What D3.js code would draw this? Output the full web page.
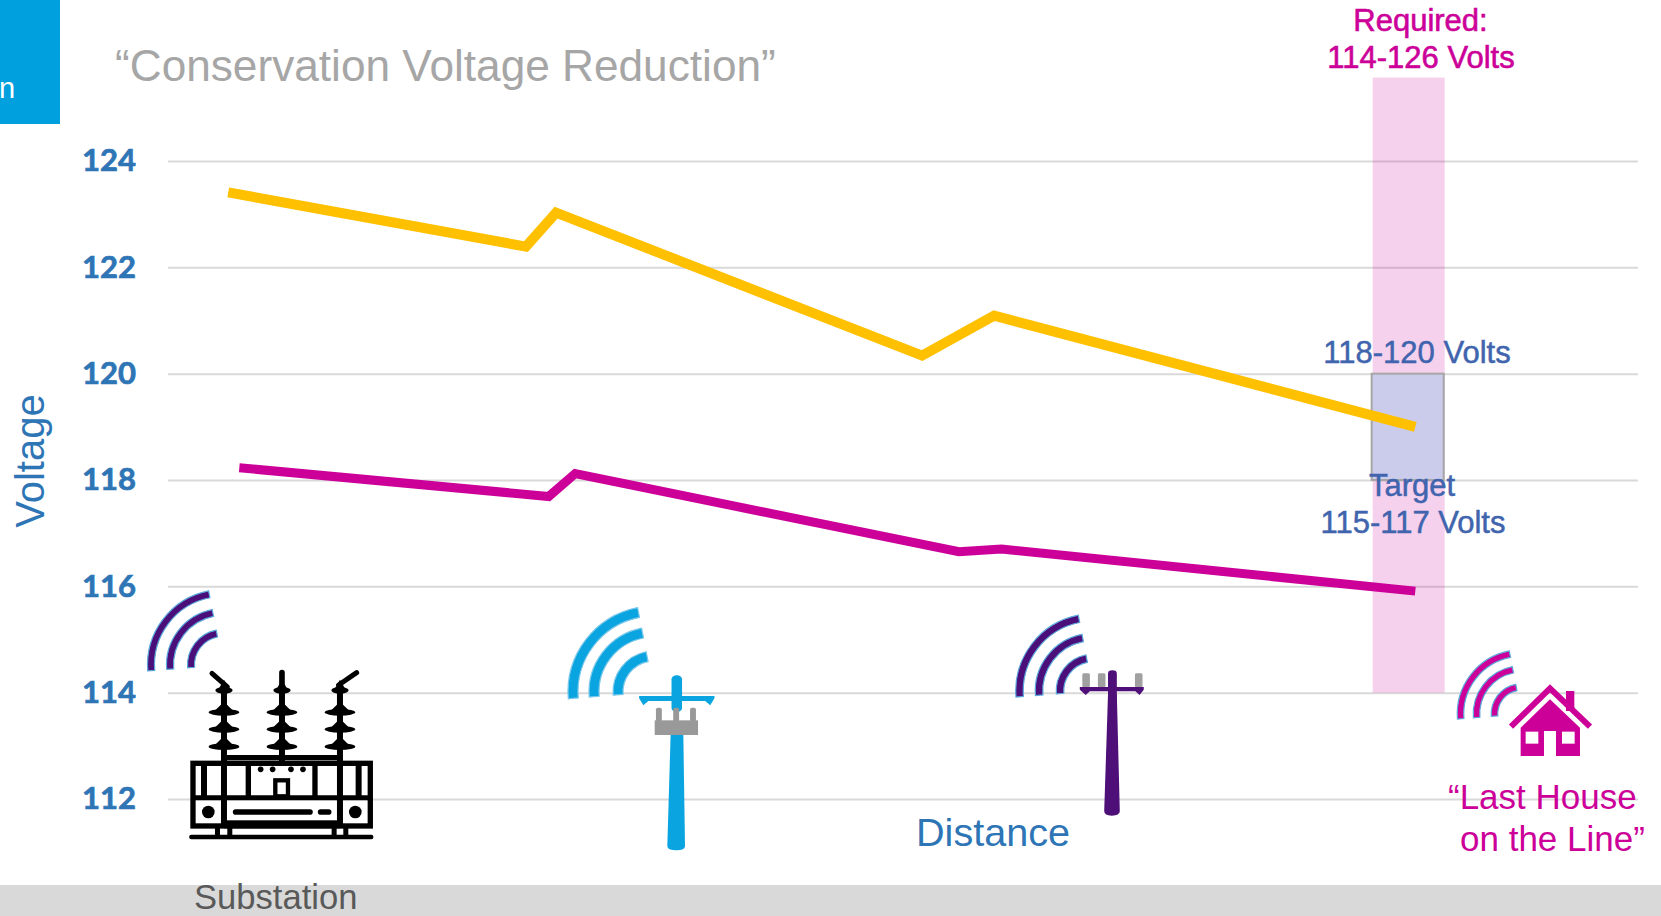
<!DOCTYPE html>
<html><head><meta charset="utf-8">
<script src="https://cdn.jsdelivr.net/npm/d3@7"></script>
<style>html,body{margin:0;padding:0;background:#fff;overflow:hidden}svg{display:block}text{font-family:"Liberation Sans",Arial,sans-serif}</style>
</head><body><svg id="c" width="1661" height="916"></svg>
<script>
// Data
const yTicks = [112,114,116,118,120,122,124];
const distanceHigh = [4.1,24.35,26.4,51.3,56.2,84.85];
const voltageHigh = [123.41,122.39,123.03,120.34,121.09,119.0];
const distanceLow = [4.85,25.9,27.7,53.8,56.7,84.85];
const voltageLow = [118.23,117.69,118.12,116.65,116.7,115.91];
const requiredBand = [114,125.57];
const targetBand = [118,120];
const bandDistance = [81.95,86.85];

const svg = d3.select("#c");
const x = d3.scaleLinear().domain([0,100]).range([168,1638]);
const y = d3.scaleLinear().domain([112,124]).range([799,161]);

// Frame elements
svg.append("rect").attr("x",0).attr("y",0).attr("width",60).attr("height",124).attr("fill","#00a0df");
svg.append("rect").attr("x",0).attr("y",885).attr("width",1661).attr("height",31).attr("fill","#d9d9d9");
svg.append("text").attr("x",-1).attr("y",98).attr("font-size",29).attr("fill","#fff").text("n");
svg.append("text").attr("x",115).attr("y",81).attr("font-size",44.2).attr("fill","#a6a6a6").text("“Conservation Voltage Reduction”");

// Axis and grid
const axis = d3.axisLeft(y).tickValues(yTicks).tickSize(-1470).tickPadding(32).tickFormat(d3.format("d"));
const ag = svg.append("g").attr("transform","translate(168,0)").call(axis);
ag.select(".domain").remove();
ag.selectAll(".tick line").attr("stroke","#d9d9d9").attr("stroke-width",2);
ag.selectAll(".tick text").attr("fill","#2e75b6").attr("stroke","#2e75b6").attr("stroke-width",.7).attr("font-size",31).attr("font-weight",700).style("font-family","Lato,sans-serif").attr("dy","0.32em");

// Bands
svg.append("rect").attr("x",x(bandDistance[0])).attr("width",x(bandDistance[1])-x(bandDistance[0]))
  .attr("y",y(requiredBand[1])).attr("height",y(requiredBand[0])-y(requiredBand[1]))
  .attr("fill","#cc0099").attr("fill-opacity",.18);
svg.append("rect").attr("x",x(bandDistance[0])-1).attr("width",x(bandDistance[1])-x(bandDistance[0]))
  .attr("y",y(targetBand[1])).attr("height",y(targetBand[0])-y(targetBand[1]))
  .attr("fill","#cbcbeb").attr("stroke","#a6a6a6").attr("stroke-width",2);

// Lines
const line = d3.line().x(d=>x(d[0])).y(d=>y(d[1]));
svg.append("path").attr("d",line(d3.zip(distanceHigh,voltageHigh))).attr("fill","none").attr("stroke","#ffc000").attr("stroke-width",10).attr("stroke-linejoin","miter");
svg.append("path").attr("d",line(d3.zip(distanceLow,voltageLow))).attr("fill","none").attr("stroke","#cc0099").attr("stroke-width",9).attr("stroke-linejoin","miter");

// Labels
function label(t,px,py,size,fill,anchor,extra){
  const e=svg.append("text").attr("x",px).attr("y",py).attr("font-size",size).attr("fill",fill).attr("text-anchor",anchor||"middle").text(t);
  if(extra){e.attr("stroke",fill).attr("stroke-width",extra);}
  return e;
}
const MAG="#cc0099",BLU="#4064ad",AX="#2e75b6";
label("Required:",1420.5,31,31,MAG,"middle",.6);
label("114-126 Volts",1421,68,31,MAG,"middle",.6);
label("118-120 Volts",1417,363,31,BLU,"middle",.5);
label("Target",1412,496,31,BLU,"middle",.5);
label("115-117 Volts",1413,533,31,BLU,"middle",.5);
label("Distance",916,846,39.6,AX,"start");
label("Substation",194,908.6,34.6,"#595959","start");
label("“Last House",1448,809,35,MAG,"start");
label("on the Line”",1460,851,35,MAG,"start");
svg.append("text").attr("transform","translate(44,461) rotate(-90)").attr("text-anchor","middle").attr("font-size",40).attr("fill",AX).text("Voltage");

// Signal arcs
function wifi(cx,cy,radii,w,fill,edge){
  const g=svg.append("g").attr("transform",`translate(${cx},${cy})`);
  const a=d3.arc().startAngle(-94.5*Math.PI/180).endAngle(-11*Math.PI/180);
  radii.forEach(r=>g.append("path").attr("d",a({innerRadius:r-w/2,outerRadius:r+w/2}))
    .attr("fill",fill).attr("stroke",edge).attr("stroke-width",1.2));
}
wifi(223,665,[72,53,32],7,"#4b0f7a","#5ba8dc");
wifi(654,692,[81,60,36],10,"#0aa5e0","#7cc8ea");
wifi(1093,691,[73.5,54,33],7.5,"#4b0f7a","#5ba8dc");
wifi(1521.5,714,[61,45,27],6.5,"#cc0099","#5ba8dc");

// Substation icon
const s=svg.append("g").attr("transform","translate(0,541) scale(0.3333)").attr("fill","#000").attr("stroke","none");
s.append("rect").attr("x",579).attr("y",667).attr("width",532).attr("height",188).attr("fill","none").attr("stroke","#000").attr("stroke-width",16);
const L=(x1,y1,x2,y2,w,c)=>s.append("line").attr("x1",x1).attr("y1",y1).attr("x2",x2).attr("y2",y2).attr("stroke","#000").attr("stroke-width",w).attr("stroke-linecap",c||"butt");
L(574,888,1114,888,13,"round");
[[645,660],[682,697],[995,1010],[1030,1045]].forEach(f=>s.append("rect").attr("x",f[0]).attr("y",860).attr("width",f[1]-f[0]).attr("height",24));
[672,846,1020].forEach(cx=>{
  L(cx,440,cx,cx===846?660:860,18);
  [[448,26],[514,46],[565,46],[617,46]].forEach(d=>{
    s.append("ellipse").attr("cx",cx).attr("cy",d[0]).attr("rx",d[1]).attr("ry",10);
    s.append("path").attr("d",`M${cx-d[1]*.7},${d[0]}L${cx},${d[0]-32}L${cx+d[1]*.7},${d[0]}Z`);
  });
});
L(636,397,682,438,15,"round");L(846,395,846,445,17,"round");L(1070,395,1016,432,15,"round");
L(672,650,1020,650,16);
L(745,660,745,770,16);L(945,660,945,770,16);L(580,770,1110,770,15);
L(612,672,612,765,18);L(1076,672,1076,765,18);
s.append("rect").attr("x",826).attr("y",718).attr("width",38).attr("height",48).attr("fill","none").attr("stroke","#000").attr("stroke-width",13);
[782,818,873,909].forEach(dx=>s.append("circle").attr("cx",dx).attr("cy",685).attr("r",8.5));
s.append("circle").attr("cx",625).attr("cy",813).attr("r",19);
s.append("circle").attr("cx",1066).attr("cy",813).attr("r",19);
L(707,813,930,813,17,"round");L(962,813,986,813,17,"round");
s.append("rect").attr("x",672).attr("y",838).attr("width",348).attr("height",24);

// Poles
function pole(color,parts){
  const g=svg.append("g").attr("transform","translate(520,581) scale(0.4209,0.3333)");
  parts(g,color);
}
pole("#0aa5e0",(g,c)=>{
  g.append("path").attr("d","M358,455L388,455L392,795Q392,808 372,808Q350,808 350,795Z").attr("fill",c);
  g.append("rect").attr("x",360).attr("y",283).attr("width",25).attr("height",110).attr("rx",12).attr("fill",c);
  g.append("path").attr("d","M283,345L462,345L462,352L452,373L440,360L305,360L293,373L283,352Z").attr("fill",c);
  [330,371,411].forEach(v=>g.append("rect").attr("x",v-7).attr("y",380).attr("width",14).attr("height",42).attr("rx",5).attr("fill","#999"));
  g.append("rect").attr("x",320).attr("y",418).attr("width",103).attr("height",44).attr("fill","#999");
});
pole("#4f0f78",(g,c)=>{
  [1345,1382,1470].forEach(v=>g.append("rect").attr("x",v-9).attr("y",277).attr("width",18).attr("height",42).attr("rx",4).attr("fill","#a0a0a0"));
  g.append("path").attr("d","M1397,340L1418,340L1425,690Q1425,704 1406,704Q1388,704 1388,690Z").attr("fill",c);
  g.append("rect").attr("x",1397).attr("y",268).attr("width",21).attr("height",130).attr("rx",10).attr("fill",c);
  g.append("path").attr("d","M1330,318L1482,318L1482,326L1472,342L1462,331L1354,331L1344,342L1330,326Z").attr("fill",c);
});

// House
const h=svg.append("g").attr("transform","translate(1400,621) scale(0.3333)");
h.append("rect").attr("x",498).attr("y",210).attr("width",25).attr("height",60).attr("fill",MAG);
h.append("path").attr("d","M333,317L450,202L570,317").attr("fill","none").attr("stroke",MAG).attr("stroke-width",18);
h.append("path").attr("d","M362,320L450,235L540,320L540,405L468,405L468,330L432,330L432,405L362,405Z").attr("fill",MAG);
h.append("rect").attr("x",377).attr("y",332).attr("width",38).attr("height",36).attr("fill","#fff");
h.append("rect").attr("x",486).attr("y",332).attr("width",38).attr("height",36).attr("fill","#fff");
</script></body></html>
